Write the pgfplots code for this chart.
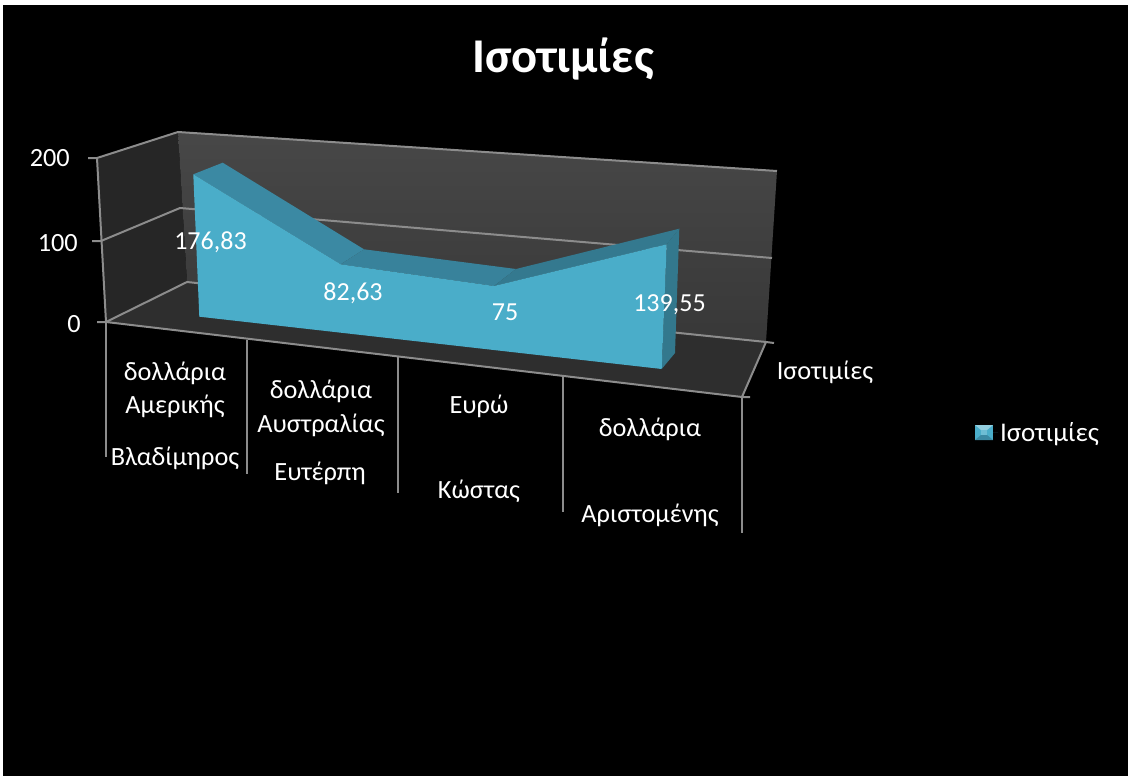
\documentclass[border=0pt]{standalone}
\usepackage{pgfplots}
\pgfplotsset{compat=1.18}
\usepackage{pgfplotstable}
\usepackage{fontspec}
\setmainfont{Carlito}
\definecolor{front}{HTML}{4AADC9}
\definecolor{topa}{HTML}{3B89A3}
\definecolor{topb}{HTML}{38829B}
\definecolor{topc}{HTML}{34798F}
\definecolor{side}{HTML}{33788D}
\definecolor{leftw}{HTML}{262626}
\definecolor{floorw}{HTML}{2E2E2E}
\definecolor{grid}{HTML}{8C8C8C}
% The four values: position of each data label on the drawn face, and the value it carries
\pgfplotstableread[col sep=space]{
x y label
210.5 242 176,83
353 293 82,63
505 312 75
669.5 305 139,55
}\labelstab
\pgfplotstableread{
x y
199.3 316.7
193.3 174.3
340.7 264.3
494 286
666.7 244.3
661.7 369
}\fronttab
\begin{document}
\begin{tikzpicture}
\begin{axis}[
  scale only axis, width=1128pt, height=776pt,
  xmin=0, xmax=1128, ymin=0, ymax=776, y dir=reverse,
  hide axis, clip=true,
  legend cell align=left,
  legend style={at={(axis cs:975,432.5)}, anchor=west, draw=none, fill=none,
    text=white, font=\fontsize{27}{27}\selectfont, inner sep=0pt, outer sep=0pt},
]
% page
\addplot[fill=white, draw=none, forget plot] coordinates {(0,0)(1128,0)(1128,776)(0,776)} -- cycle;
\addplot[fill=black, draw=none, forget plot] coordinates {(3,5)(1128,5)(1128,776)(3,776)} -- cycle;
% walls
\addplot[fill=leftw, draw=none, forget plot] coordinates {(97,158)(178,132)(187,282)(106,322)} -- cycle;
\addplot[top color=black!72, bottom color=black!78, draw=none, forget plot] coordinates {(178,132)(777,171)(766,342)(187,282)} -- cycle;
\addplot[fill=floorw, draw=none, forget plot] coordinates {(106,322)(187,282)(766,342)(742,397)} -- cycle;
% grid lines
\pgfplotsset{gl/.style={draw=grid, line width=2pt, forget plot}}
\addplot[gl] coordinates {(88,158)(97,158)(178,132)(777,171)};
\addplot[gl] coordinates {(92,241)(101,241)(180,208)(772,258)};
\addplot[gl] coordinates {(97,322)(106,322)(187,282)(766,342)(774,343)};
\addplot[gl] coordinates {(97,158)(106,322)};
\addplot[gl] coordinates {(106,322)(742,397)(750,397)};
\addplot[gl] coordinates {(766,342)(742,397)};
\addplot[gl] coordinates {(106,322)(106,457)};
\addplot[gl] coordinates {(246.7,340)(246.7,474)};
\addplot[gl] coordinates {(398.3,357)(398.3,493)};
\addplot[gl] coordinates {(562.7,377)(562.7,512)};
\addplot[gl] coordinates {(741.7,397)(741.7,533)};
% area: upper faces and side
\addplot[fill=topa, draw=none, forget plot] coordinates {(193.3,174.3)(222.7,162.7)(364,249.3)(340.7,264.3)} -- cycle;
\addplot[fill=topb, draw=none, forget plot] coordinates {(340.7,264.3)(364,249.3)(516,269)(494,286)} -- cycle;
\addplot[fill=topc, draw=none, forget plot] coordinates {(494,286)(516,269)(679.3,228.7)(666.7,244.3)} -- cycle;
\addplot[fill=side, draw=none, forget plot] coordinates {(666.7,244.3)(679.3,228.7)(675,353)(661.7,369)} -- cycle;
% area: front face
\addplot[fill=front, draw=none,
  legend image code/.code={
    \path (0pt,0pt) -- (23pt,0pt);
    \fill[front] (0pt,-7.5pt) rectangle (18pt,7.5pt);
    \fill[topa] (0pt,-7.5pt) -- (18pt,-7.5pt) -- (9pt,0pt) -- cycle;
    \fill[front!60!white] (0pt,7.5pt) -- (18pt,7.5pt) -- (9pt,0pt) -- cycle;
    \fill[front!80!white] (6pt,-2.5pt) rectangle (12pt,2.5pt);
  }] table {\fronttab} -- cycle;
\addlegendentry{Ισοτιμίες}
% data labels
\addplot[draw=none, mark=none, forget plot, point meta=explicit symbolic,
  nodes near coords, nodes near coords style={anchor=center, text=white, inner sep=0pt,
  font=\fontsize{26}{26}\selectfont}]
  table[meta=label] {\labelstab};
% text
\tikzset{t/.style={text=white, font=\fontsize{26.3}{26.3}\selectfont, inner sep=0pt, align=center}}
\node[text=white, font=\fontsize{48.5}{48.5}\selectfont\bfseries, inner sep=0pt] at (axis cs:563,59) {Ισοτιμίες};
\node[t, anchor=east] at (axis cs:70,158) {200};
\node[t, anchor=east] at (axis cs:78,243) {100};
\node[t, anchor=east] at (axis cs:81,324) {0};
\node[t] at (axis cs:825,372) {Ισοτιμίες};
\node[t] at (axis cs:175,373) {δολλάρια};
\node[t] at (axis cs:175,406) {Αμερικής};
\node[t] at (axis cs:175,458) {Βλαδίμηρος};
\node[t] at (axis cs:321,391) {δολλάρια};
\node[t] at (axis cs:321,425) {Αυστραλίας};
\node[t] at (axis cs:320,473) {Ευτέρπη};
\node[t] at (axis cs:479,406) {Ευρώ};
\node[t] at (axis cs:479,491) {Κώστας};
\node[t] at (axis cs:650,429) {δολλάρια};
\node[t] at (axis cs:650,515) {Αριστομένης};
\end{axis}
\end{tikzpicture}
\end{document}
